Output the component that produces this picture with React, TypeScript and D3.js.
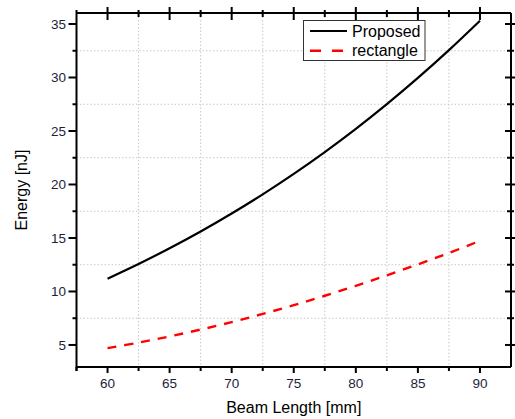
import React from "react";
import * as d3 from "d3";

const beamLength = [60, 62.5, 65, 67.5, 70, 72.5, 75, 77.5, 80, 82.5, 85, 87.5, 90];
const proposed = [11.2, 12.57, 14.04, 15.61, 17.29, 19.08, 20.99, 23.03, 25.2, 27.51, 29.96, 32.56, 35.31];
const rectangle = [4.7, 5.22, 5.8, 6.44, 7.14, 7.9, 8.72, 9.6, 10.53, 11.51, 12.53, 13.6, 14.73];
const xMajor = [60, 65, 70, 75, 80, 85, 90];
const xMinor = [57.5, 62.5, 67.5, 72.5, 77.5, 82.5, 87.5, 92.5];
const yMajor = [5, 10, 15, 20, 25, 30, 35];
const yMinor = [7.5, 12.5, 17.5, 22.5, 27.5, 32.5];
const seriesNames = ["Proposed", "rectangle"];

const W = 515, H = 419;
const L = 76.5, R = 511, T = 13, B = 367;

export default function App() {
  const x = d3.scaleLinear().domain([57.5, 92.5]).range([L, R]);
  const y = d3.scaleLinear().domain([2.94, 36.03]).range([B, T]);
  const line = d3.line<number>().x((_, i) => x(beamLength[i])).y((d) => y(d)).curve(d3.curveCatmullRom);
  const font = "'Liberation Sans', Arial, sans-serif";
  const tickColor = "#1e1e3c";
  const gridX = xMinor.filter((v) => v > 58 && v < 92);
  return (
    <svg width={W} height={H} style={{ position: "absolute", left: 0, top: 0, background: "#fff" }} fontFamily={font}>
      <rect x={0} y={0} width={W} height={H} fill="#fff" />
      {/* grid */}
      {gridX.map((v) => (
        <line key={"gx" + v} x1={x(v)} x2={x(v)} y1={T} y2={B} stroke="#c8c8c8" strokeWidth={1} strokeDasharray="1.5,2" />
      ))}
      {yMinor.map((v) => (
        <line key={"gy" + v} x1={L} x2={R} y1={y(v)} y2={y(v)} stroke="#c8c8c8" strokeWidth={1} strokeDasharray="1.5,2" />
      ))}
      {/* curves */}
      <path d={line(proposed) || ""} fill="none" stroke="#000" strokeWidth={2.2} />
      <path d={line(rectangle) || ""} fill="none" stroke="#ff0000" strokeWidth={2.4} strokeDasharray="9,8" />
      {/* axes frame */}
      <g stroke="#000" strokeWidth={2} fill="none">
        <line x1={L} x2={L} y1={T - 3} y2={B + 4} />
        <line x1={L} x2={R} y1={B} y2={B} />
        <line x1={L} x2={R} y1={T} y2={T} />
        <line x1={R} x2={R} y1={T} y2={B} />
        {xMajor.map((v) => <line key={"bt" + v} x1={x(v)} x2={x(v)} y1={B} y2={B + 6} />)}
        {xMinor.filter((v) => v < 92).map((v) => <line key={"bm" + v} x1={x(v)} x2={x(v)} y1={B} y2={B + 4} />)}
        {xMajor.map((v) => <line key={"tt" + v} x1={x(v)} x2={x(v)} y1={T - 6} y2={T + 7} />)}
        {xMinor.filter((v) => v > 58 && v < 92).map((v) => <line key={"tm" + v} x1={x(v)} x2={x(v)} y1={T - 3} y2={T + 4} />)}
        {yMajor.map((v) => <line key={"lt" + v} x1={L - 8} x2={L} y1={y(v)} y2={y(v)} />)}
        {yMinor.map((v) => <line key={"lm" + v} x1={L - 4} x2={L} y1={y(v)} y2={y(v)} />)}
        {yMajor.map((v) => <line key={"rt" + v} x1={R - 6} x2={R + 6} y1={y(v)} y2={y(v)} />)}
        {yMinor.map((v) => <line key={"rm" + v} x1={R - 4} x2={R + 3} y1={y(v)} y2={y(v)} />)}
      </g>
      {/* tick labels */}
      {xMajor.map((v) => (
        <text key={"xl" + v} x={x(v)} y={388} textAnchor="middle" fontSize={13.5} fill={tickColor}>{v}</text>
      ))}
      {yMajor.map((v) => (
        <text key={"yl" + v} x={66} y={y(v)} dy="0.36em" textAnchor="end" fontSize={13.5} fill={tickColor}>{v}</text>
      ))}
      {/* axis titles */}
      <text x={(L + R) / 2} y={413} textAnchor="middle" fontSize={16} fill="#000">Beam Length [mm]</text>
      <text transform={`translate(27,${(T + B) / 2}) rotate(-90)`} textAnchor="middle" fontSize={16} fill="#000">Energy [nJ]</text>
      {/* legend */}
      <rect x={303.5} y={20.5} width={121.5} height={40} fill="#fff" stroke="#333" strokeWidth={1} />
      <line x1={310} x2={347} y1={31} y2={31} stroke="#000" strokeWidth={2.2} />
      <line x1={310} x2={347} y1={50.7} y2={50.7} stroke="#ff0000" strokeWidth={2.4} strokeDasharray="11,11" />
      <text x={352} y={36.5} fontSize={16} fill="#000">{seriesNames[0]}</text>
      <text x={352} y={56} fontSize={16} fill="#000">{seriesNames[1]}</text>
    </svg>
  );
}
